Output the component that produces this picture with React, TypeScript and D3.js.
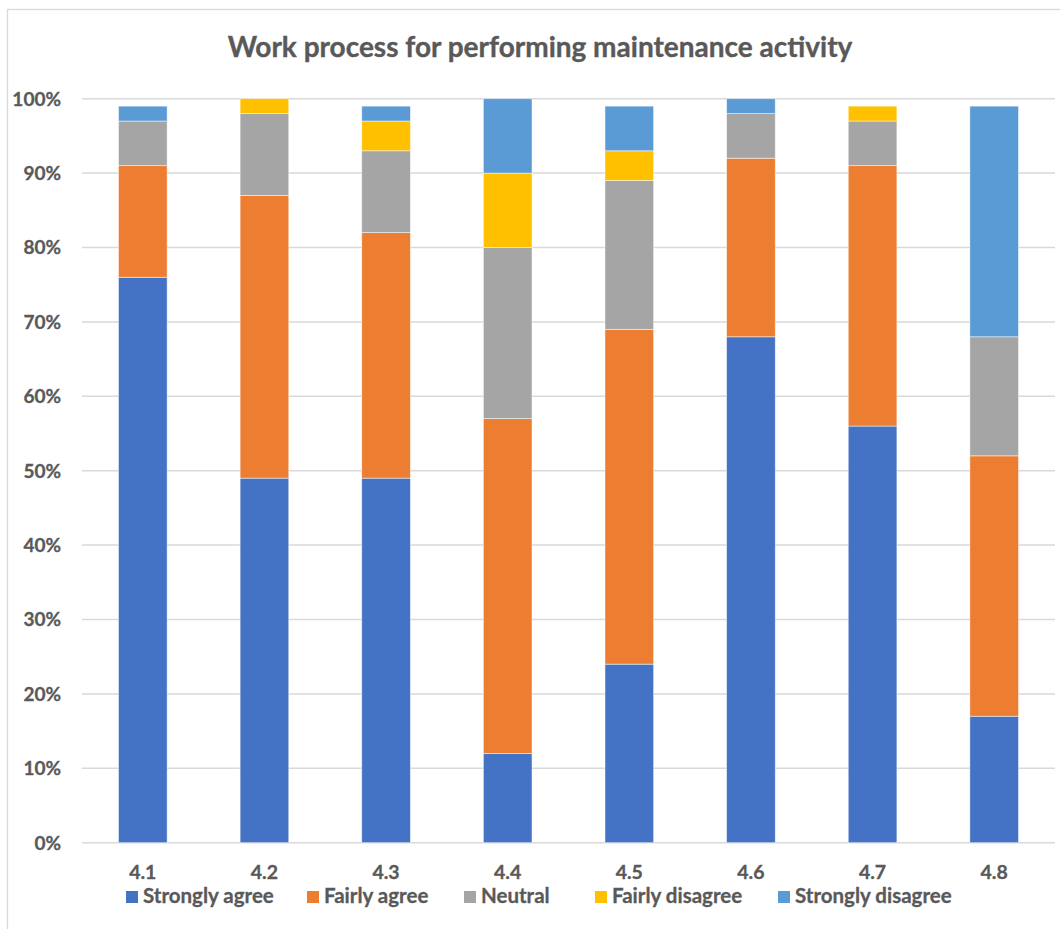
import React from "react";
import * as d3 from "d3";

const categories = ["4.1", "4.2", "4.3", "4.4", "4.5", "4.6", "4.7", "4.8"];
const seriesNames = ["Strongly agree", "Fairly agree", "Neutral", "Fairly disagree", "Strongly disagree"];
const stronglyAgree = [76, 49, 49, 12, 24, 68, 56, 17];
const fairlyAgree = [15, 38, 33, 45, 45, 24, 35, 35];
const neutral = [6, 11, 11, 23, 20, 6, 6, 16];
const fairlyDisagree = [0, 2, 4, 10, 4, 0, 2, 0];
const stronglyDisagree = [2, 0, 2, 10, 6, 2, 0, 31];
const yTicks = [0, 10, 20, 30, 40, 50, 60, 70, 80, 90, 100];
const colors = ["#4472C4", "#ED7D31", "#A5A5A5", "#FFC000", "#5B9BD5"];
const title = "Work process for performing maintenance activity";

const W = 1060;
const H = 929;
const plot = { left: 82, right: 1055, top: 98.7, bottom: 842.7 };
const FONT = "Lato, 'Open Sans', sans-serif";
const TEXT = "#595959";

export default function App() {
  const seriesValues = [stronglyAgree, fairlyAgree, neutral, fairlyDisagree, stronglyDisagree];
  const rows = categories.map((c, i) => {
    const r: Record<string, any> = { cat: c };
    seriesNames.forEach((s, k) => (r[s] = seriesValues[k][i]));
    return r;
  });
  const stacked = d3.stack<any>().keys(seriesNames)(rows);

  const x = d3
    .scaleBand<string>()
    .domain(categories)
    .range([plot.left, plot.right])
    .paddingInner(0.6)
    .paddingOuter(0.3);
  const y = d3.scaleLinear().domain([0, 100]).range([plot.bottom, plot.top]);

  const legendX = [126, 307, 464, 595, 778];

  return (
    <svg
      width={W}
      height={H}
      style={{ position: "absolute", left: 0, top: 0, background: "#fff" }}
      fontFamily={FONT}
    >
      <rect x={7.5} y={9.5} width={W + 20} height={H + 20} fill="#fff" stroke="#D9D9D9" strokeWidth={1.3} />
      <text x={540} y={57} textAnchor="middle" fontSize={28} fontWeight={700} fill={TEXT} stroke={TEXT} strokeWidth={0.35}>
        {title}
      </text>
      {yTicks.map((t) => (
        <g key={t}>
          <line x1={plot.left} x2={plot.right} y1={y(t)} y2={y(t)} stroke="#D9D9D9" strokeWidth={1.5} />
          <text x={61} y={y(t)} dy="0.36em" textAnchor="end" fontSize={19} fontWeight={700} fill={TEXT} stroke={TEXT} strokeWidth={0.3}>
            {t}%
          </text>
        </g>
      ))}
      {stacked.map((layer, k) => (
        <g key={layer.key} fill={colors[k]}>
          {layer.map((d, i) =>
            d[1] - d[0] > 0 ? (
              <rect
                key={i}
                x={x(categories[i])}
                width={x.bandwidth()}
                y={y(d[1])}
                height={y(d[0]) - y(d[1])}
                stroke="#fff"
                strokeOpacity={0.6}
                strokeWidth={0.8}
              />
            ) : null
          )}
        </g>
      ))}
      {categories.map((c) => (
        <text
          key={c}
          x={(x(c) as number) + x.bandwidth() / 2}
          y={879}
          textAnchor="middle"
          fontSize={19.5}
          fontWeight={700}
          fill={TEXT}
          stroke={TEXT}
          strokeWidth={0.3}
        >
          {c}
        </text>
      ))}
      {seriesNames.map((s, k) => (
        <g key={s} transform={`translate(${legendX[k]},891)`}>
          <rect width={12} height={12} fill={colors[k]} />
          <text x={17} y={11.8} fontSize={20.5} fontWeight={700} fill={TEXT} stroke={TEXT} strokeWidth={0.3}>
            {s}
          </text>
        </g>
      ))}
    </svg>
  );
}
